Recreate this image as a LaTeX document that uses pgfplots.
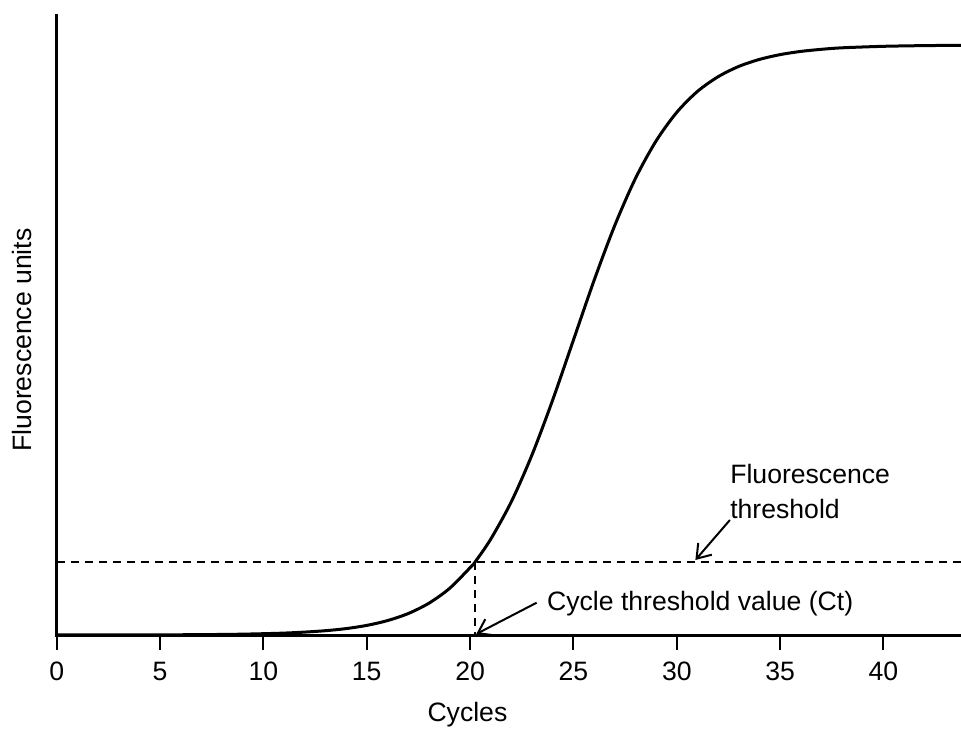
\documentclass[border=0pt]{standalone}
\usepackage{fontspec}
\setmainfont{Liberation Sans}
\usepackage{pgfplots}
\pgfplotsset{compat=1.18}
\usetikzlibrary{arrows.meta}
\newcommand{\lbl}{\fontsize{13.3bp}{16bp}\selectfont}
\begin{document}
\begin{tikzpicture}[font=\lbl]
\path[use as bounding box] (-28.35bp,-47bp) rectangle (452.15bp,317.5bp);
\begin{axis}[
  at={(0,0)}, anchor=south west,
  scale only axis,
  width=452.15bp, height=310bp,
  xmin=0, xmax=43.75, ymin=0, ymax=620,
  axis lines=left,
  axis line style={-, line width=1.5bp, line cap=rect},
  xtick={0,5,...,40},
  ytick=\empty,
  tick align=outside,
  major tick length=7.5bp,
  every tick/.style={black, line width=1bp},
  xticklabel style={font=\lbl, yshift=-2.5bp},
  /pgf/number format/assume math mode=true,
  clip=false,
]
% amplification curve
\addplot[black, line width=1.5bp, smooth] coordinates {
(0,0.02) (2,0.05) (4,0.11) (6,0.24) (8,0.55) (9,0.84) (10,1.3) (11,1.9)
(12,2.9) (13,4.3) (14,6.4) (15,9.6) (16,14.4) (17,21.4) (18,31.7) (19,46.5)
(20,67.3) (20.24,73) (21,95.9) (22,133.5) (23,180.4) (24,235.3) (25,295)
(26,354.7) (27,409.6) (28,456.6) (29,494.1) (30,522.7) (31,543.6) (32,558.3)
(33,568.6) (34,575.6) (35,580.4) (36,583.6) (37,585.7) (38,587.2) (40,588.7)
(42,589.4) (43.75,589.7)
};
% threshold line
\addplot[black, line width=0.85bp, dash pattern=on 4bp off 3bp] coordinates {(0,73) (43.75,73)};
% Ct drop line
\addplot[black, line width=0.85bp, dash pattern=on 4bp off 3bp] coordinates {(20.24,73) (20.24,0)};
% annotations
\node[anchor=base west, inner sep=0pt] at (axis cs:32.57,151.7) {Fluorescence};
\node[anchor=base west, inner sep=0pt] at (axis cs:32.57,116.7) {threshold};
\draw[line width=1bp, -{Straight Barb[length=6.5bp,width=9bp]}] (axis cs:32.57,115) -- (axis cs:30.9,75);
\node[anchor=base west, inner sep=0pt] at (axis cs:23.71,25) {Cycle threshold value (Ct)};
\draw[line width=1bp, -{Straight Barb[length=6.5bp,width=9bp]}] (axis cs:23.22,32.3) -- (axis cs:20.3,1);
% axis labels
\node at (axis cs:19.87,-80) {Cycles};
\node[rotate=90] at (axis cs:-1.69,295) {Fluorescence units};
\end{axis}
\end{tikzpicture}
\end{document}
